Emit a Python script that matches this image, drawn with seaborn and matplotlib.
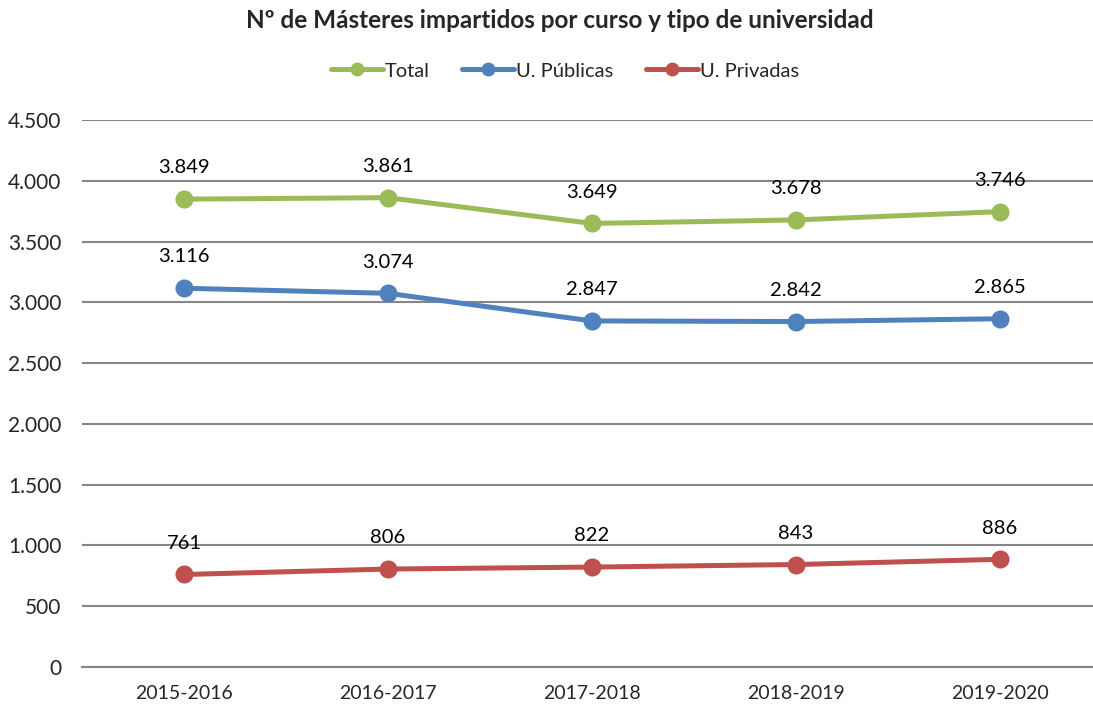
import matplotlib
matplotlib.use("Agg")
import matplotlib.pyplot as plt
import seaborn as sns
import pandas as pd
from matplotlib.ticker import FuncFormatter, MultipleLocator
from matplotlib.lines import Line2D

cursos = ["2015-2016", "2016-2017", "2017-2018", "2018-2019", "2019-2020"]
total = [3849, 3861, 3649, 3678, 3746]
publicas = [3116, 3074, 2847, 2842, 2865]
privadas = [761, 806, 822, 843, 886]
series_names = ["Total", "U. Públicas", "U. Privadas"]
colors = ["#9BBB59", "#4F81BD", "#C0504D"]
title = "Nº de Másteres impartidos por curso y tipo de universidad"

sns.set_theme(style="white")
plt.rcParams['font.family'] = ['Lato', 'DejaVu Sans']

rows = []
for name, vals in zip(series_names, [total, publicas, privadas]):
    for i, (c, v) in enumerate(zip(cursos, vals)):
        rows.append({"curso": c, "x": i, "valor": v, "serie": name})
df = pd.DataFrame(rows)

fig = plt.figure(figsize=(10.93, 7.09), dpi=100)
W, H = 1093, 709
left, right, top, bottom = 82, 1102, 120, 667
ax = fig.add_axes([left / W, 1 - bottom / H, (right - left) / W, (bottom - top) / H])

sns.lineplot(data=df, x="x", y="valor", hue="serie", hue_order=series_names,
             palette=colors, marker="o", markersize=13, markeredgewidth=0,
             linewidth=3.6, ax=ax, legend=False)

def fmt(v):
    return f"{int(round(v)):,}".replace(",", ".")

for name, vals in zip(series_names, [total, publicas, privadas]):
    for i, v in enumerate(vals):
        ax.annotate(fmt(v), (i, v), xytext=(0, 22.5), textcoords="offset points",
                    ha="center", va="center", fontsize=14.5, color="#000000")

ax.set_xlim(-0.5, 4.5)
ax.set_ylim(0, 4500)
ax.yaxis.set_major_locator(MultipleLocator(500))
ax.yaxis.set_major_formatter(FuncFormatter(lambda v, p: fmt(v)))
ax.set_xticks(range(len(cursos)))
ax.set_xticklabels(cursos)
ax.set_xticks([i + 0.5 for i in range(-1, 5)], minor=True)
ax.tick_params(axis="x", which="major", length=0, pad=13, labelsize=14)
ax.tick_params(axis="x", which="minor", length=6, width=1.5, color="#868686", direction="out")
ax.tick_params(axis="y", length=0, pad=15, labelsize=15)
ax.grid(axis="y", color="#868686", linewidth=1.5)
ax.set_axisbelow(True)
for s in ["top", "right", "left"]:
    ax.spines[s].set_visible(False)
ax.spines["bottom"].set_color("#868686")
ax.spines["bottom"].set_linewidth(1.5)
ax.set_xlabel("")
ax.set_ylabel("")

fig.text(560 / W, 1 - 20 / H, title, ha="center", va="center",
         fontsize=17.5, fontweight="bold")

handles = [Line2D([0], [0], color=c, linewidth=3.6, marker="o", markersize=10,
                  markeredgewidth=0) for c in colors]
fig.legend(handles, series_names, loc="center", bbox_to_anchor=(565 / W, 1 - 71 / H),
           ncol=3, frameon=False, fontsize=14.5, handlelength=2.6, handletextpad=0.1,
           columnspacing=1.6)

fig.savefig("out.png", dpi=100)
